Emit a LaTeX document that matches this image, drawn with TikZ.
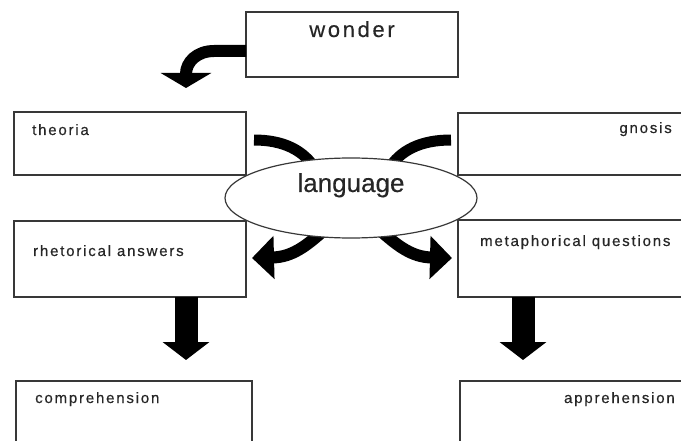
\documentclass[tikz,border=0pt]{standalone}
\usepackage{fontspec}
\setmainfont{Liberation Sans}
\newfontfamily\labfont[LetterSpace=12,FakeBold=0.4]{Liberation Sans}
\newfontfamily\wonderfont[LetterSpace=12,FakeBold=0.3]{Liberation Sans}
\newfontfamily\langfont[FakeBold=0.3]{Liberation Sans}
\usetikzlibrary{arrows.meta,calc,shapes.geometric}
\begin{document}
\begin{tikzpicture}[x=1pt,y=-1pt,
  box/.style={draw=black!78, line width=1.4pt, fill=white, inner sep=0pt, outer sep=0pt, anchor=north west},
  lab/.style={font=\labfont\fontsize{15}{18}\selectfont, text=black!85, inner sep=0pt},
  band/.style={draw=black, line width=12pt},
  bigtip/.style={-{Triangle[width=42pt,length=22pt]}},
  downarrow/.style={draw=black, line width=23pt, -{Triangle[width=46pt,length=18pt]}}
]
\useasboundingbox (0,0) rectangle (681,441);
\clip (0,0) rectangle (681,441);
\fill[white] (0,0) rectangle (681,441);

% boxes
\node[box, minimum width=212pt, minimum height=65pt] (wonder) at (246,12) {};
\node[box, minimum width=232pt, minimum height=63pt] (theoria) at (14,112) {};
\node[box, minimum width=240pt, minimum height=62pt] (gnosis) at (458,113) {};
\node[box, minimum width=232pt, minimum height=76pt] (rhet) at (14,221) {};
\node[box, minimum width=240pt, minimum height=77pt] (meta) at (458,220) {};
\node[box, minimum width=236pt, minimum height=80pt] (comp) at (16,381) {};
\node[box, minimum width=240pt, minimum height=80pt] (appr) at (460,381) {};

% free ends
\coordinate (wtip) at (186,88);
\coordinate (ltip) at (186,360);
\coordinate (rtip) at (523,360);
\coordinate (ulend) at (316,170);
\coordinate (urend) at (388,170);
\coordinate (lltip) at (252,258);
\coordinate (lrtip) at (452,258);

% wonder arrow
\draw[draw=black, line width=12pt, -{Triangle[width=50pt,length=15pt]}]
  ($(wonder.north west)+(0,39)$) -- (214,51) .. controls (197,51) and (186,62) .. (wtip);

% vertical arrows
\draw[downarrow] ($(rhet.south west)+(172,0)$) -- (ltip);
\draw[downarrow] ($(meta.south west)+(65,0)$) -- (rtip);

% curved bands around language
\draw[band, line width=11pt] ($(theoria.north east)+(8,28)$) .. controls (283,140) and (304,150) .. (ulend);
\draw[band, line width=11pt] ($(gnosis.north west)+(-7,27)$) .. controls (421,140) and (400,150) .. (urend);
\draw[band, bigtip] (322,232) .. controls (306,246) and (292,257) .. (lltip);
\draw[band, bigtip] (382,232) .. controls (398,246) and (412,257) .. (lrtip);

% language ellipse
\node[ellipse, draw=black!78, line width=1.2pt, fill=white, minimum width=252pt, minimum height=80pt, inner sep=0pt] (lang) at (351,198) {};

% texts
\node[font=\wonderfont\fontsize{22}{26}\selectfont, text=black!85, inner sep=0pt, anchor=base] (wondertext) at ($(wonder.north west)+(106,25)$) {wonder};
\node[font=\langfont\fontsize{26}{30}\selectfont, text=black!85, inner sep=0pt, anchor=base] (langtext) at ($(lang.center)+(0,-6)$) {language};
\node[lab, anchor=base west] (theoriatext) at ($(theoria.north west)+(18,23)$) {theoria};
\node[lab, anchor=base east] (gnosistext) at (672,133) {gnosis};
\node[lab, anchor=base west] (rhettext) at ($(rhet.north west)+(19,35)$) {rhetorical answers};
\node[lab, anchor=base west] (metatext) at ($(meta.north west)+(22,26)$) {metaphorical questions};
\node[lab, anchor=base west] (comptext) at ($(comp.north west)+(19,22)$) {comprehension};
\node[lab, anchor=base east] (apprtext) at (675,403) {apprehension};
\end{tikzpicture}
\end{document}
